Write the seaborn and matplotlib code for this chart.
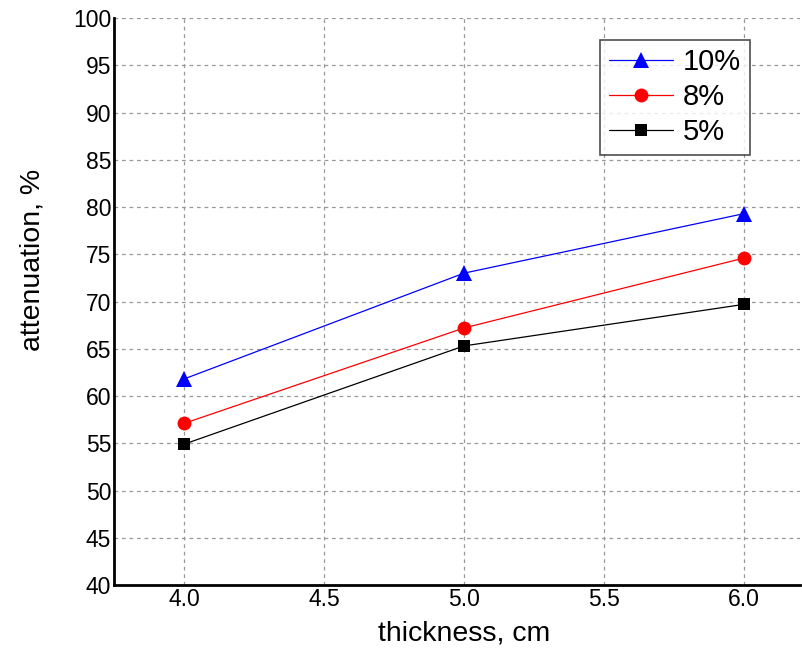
import matplotlib
matplotlib.use("Agg")
import matplotlib.pyplot as plt
import seaborn as sns
import pandas as pd
from matplotlib.lines import Line2D

# Measured attenuation for three filler concentrations
thickness = [4.0, 5.0, 6.0]
series_names = ["10%", "8%", "5%"]
att_10 = [61.8, 73.0, 79.3]
att_8 = [57.1, 67.2, 74.6]
att_5 = [54.9, 65.3, 69.7]
x_ticks = [4.0, 4.5, 5.0, 5.5, 6.0]
x_tick_labels = ["4.0", "4.5", "5.0", "5.5", "6.0"]

colors = {"10%": "#0000ff", "8%": "#ff0000", "5%": "#000000"}
markers = {"10%": "^", "8%": "o", "5%": "s"}
msizes = {"10%": 11, "8%": 10, "5%": 8}

df = pd.concat([
    pd.DataFrame({"thickness": thickness, "attenuation": vals, "conc": name})
    for name, vals in zip(series_names, [att_10, att_8, att_5])
], ignore_index=True)

sns.set_theme(style="white")
plt.rcParams["font.family"] = ["Liberation Sans", "DejaVu Sans"]
plt.rcParams["text.color"] = "black"
plt.rcParams["axes.labelcolor"] = "black"

fig = plt.figure(figsize=(8.02, 6.48), dpi=100)
ax = fig.add_axes([0.1421, 0.0972, 0.8554, 0.875])

for name in series_names:
    sub = df[df["conc"] == name]
    sns.lineplot(data=sub, x="thickness", y="attenuation", ax=ax,
                 color=colors[name], marker=markers[name],
                 markersize=msizes[name], markeredgewidth=0,
                 linewidth=0.9, legend=False)

ax.set_xlim(3.75, 6.2)
ax.set_ylim(40, 100)
ax.set_xticks(x_ticks)
ax.set_xticklabels(x_tick_labels)
ax.set_yticks(range(40, 101, 5))
ax.tick_params(axis="both", labelsize=16.5, length=0, pad=2, colors="black")

ax.grid(True, linestyle=(0, (3, 3)), color="#999999", linewidth=0.9)
for side in ["top", "right"]:
    ax.spines[side].set_visible(False)
for side in ["left", "bottom"]:
    ax.spines[side].set_color("black")
    ax.spines[side].set_linewidth(2)

ax.set_xlabel("thickness, cm", fontsize=20.5)
ax.set_ylabel("attenuation, %", fontsize=20.5)
ax.xaxis.set_label_coords(0.51, -0.062)
ax.yaxis.set_label_coords(-0.1, 0.573)

handles = [Line2D([0], [0], color=colors[n], marker=markers[n],
                  markersize=msizes[n], markeredgewidth=0, linewidth=0.9)
           for n in series_names]
leg = ax.legend(handles, series_names, loc="upper right",
                bbox_to_anchor=(0.927, 0.962), borderaxespad=0,
                fontsize=21, frameon=True, fancybox=False,
                edgecolor="#222222", handlelength=2.2, handletextpad=0.35,
                labelspacing=0.24, borderpad=0.3)
leg.get_frame().set_linewidth(1.2)

fig.savefig("out.png", dpi=100)
